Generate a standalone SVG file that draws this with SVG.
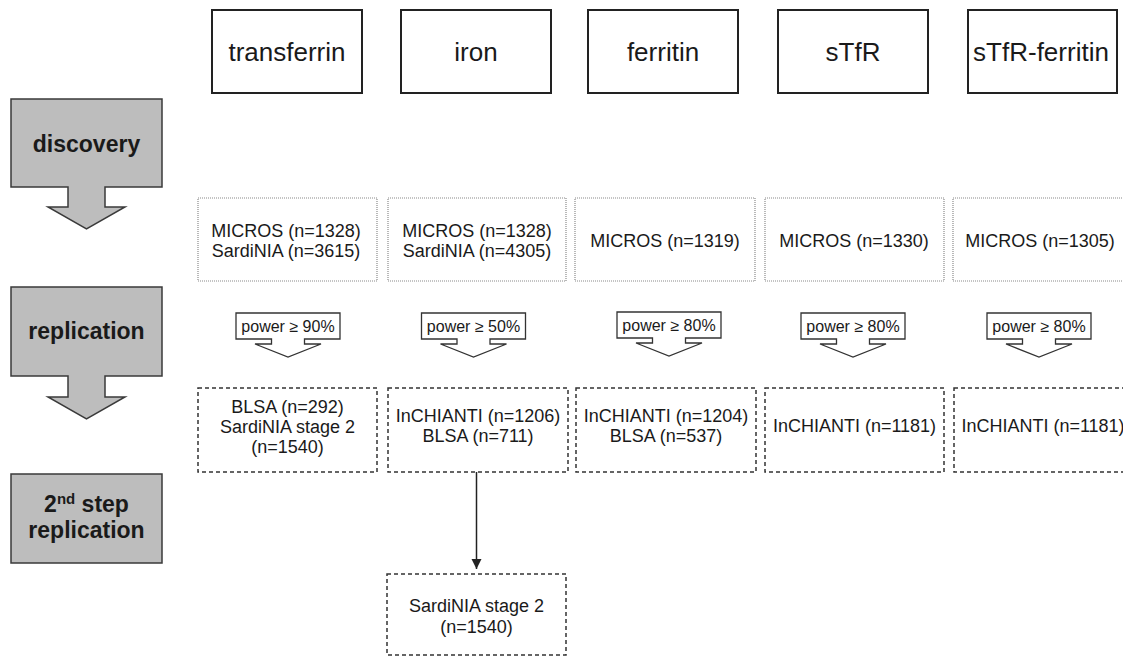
<svg xmlns="http://www.w3.org/2000/svg" width="1123" height="657" viewBox="0 0 1123 657">
<style>
.bg{fill:#ffffff}
.top{fill:#fff;stroke:#222;stroke-width:2}
.toptxt{font-family:"Liberation Sans",Arial,sans-serif;font-size:26px;fill:#1a1a1a;text-anchor:middle}
.stage{fill:#bdbdbd;stroke:#3a3a3a;stroke-width:1.5;stroke-linejoin:miter}
.stagetxt{font-family:"Liberation Sans",Arial,sans-serif;font-size:23px;font-weight:bold;fill:#1a1a1a;text-anchor:middle}
.disc{fill:#fff;stroke:#8a8a8a;stroke-width:1.2;stroke-dasharray:1 1}
.rep{fill:#fff;stroke:#333;stroke-width:1.5;stroke-dasharray:4 3}
.txt{font-family:"Liberation Sans",Arial,sans-serif;font-size:18px;fill:#1a1a1a;text-anchor:middle}
.pow{fill:#fff;stroke:#333;stroke-width:1.3;stroke-linejoin:miter}
.powtxt{font-family:"Liberation Sans",Arial,sans-serif;font-size:16px;fill:#1a1a1a;text-anchor:middle}
.conn{stroke:#222;stroke-width:1.5;fill:none}
</style>
<defs>
<marker id="ah" viewBox="0 0 10 10" refX="10" refY="5" markerWidth="10" markerHeight="11" markerUnits="userSpaceOnUse" orient="auto">
<path d="M0,0 L10,5 L0,10 z" fill="#222"/>
</marker>
</defs>
<rect class="bg" x="0" y="0" width="1123" height="657"/>

<g id="stage-discovery">
<path class="stage" d="M11,99 H162 V187 H105 V207 H125 L86.5,229 L48,207 H68 V187 H11 Z"/>
<text class="stagetxt" x="86.5" y="151.5">discovery</text>
</g>
<g id="stage-replication">
<path class="stage" d="M11,287 H162 V376 H105 V397 H125 L86.5,419 L48,397 H68 V376 H11 Z"/>
<text class="stagetxt" x="86.5" y="339">replication</text>
</g>
<g id="stage-2nd">
<rect class="stage" x="11" y="474" width="151" height="89"/>
<text class="stagetxt" x="86.5" y="512">2<tspan font-size="15px" dy="-8">nd</tspan><tspan dy="8"> step</tspan></text>
<text class="stagetxt" x="86.5" y="538">replication</text>
</g>

<g id="trait-transferrin">
<rect class="top" x="212" y="10" width="150" height="83"/>
<text class="toptxt" x="287" y="61">transferrin</text>
</g>
<g id="trait-iron">
<rect class="top" x="401" y="10" width="150" height="83"/>
<text class="toptxt" x="476" y="61">iron</text>
</g>
<g id="trait-ferritin">
<rect class="top" x="588" y="10" width="150" height="83"/>
<text class="toptxt" x="663" y="61">ferritin</text>
</g>
<g id="trait-stfr">
<rect class="top" x="778" y="10" width="150" height="83"/>
<text class="toptxt" x="853" y="61">sTfR</text>
</g>
<g id="trait-stfr-ferritin">
<rect class="top" x="968" y="10" width="149" height="83"/>
<text class="toptxt" x="1041" y="61">sTfR-ferritin</text>
</g>

<g id="disc-1">
<rect class="disc" x="198" y="198" width="179" height="83"/>
<text class="txt" x="286" y="236.5">MICROS (n=1328)</text>
<text class="txt" x="286" y="256.5">SardiNIA (n=3615)</text>
</g>
<g id="disc-2">
<rect class="disc" x="388" y="198" width="178" height="83"/>
<text class="txt" x="477" y="236.5">MICROS (n=1328)</text>
<text class="txt" x="477" y="256.5">SardiNIA (n=4305)</text>
</g>
<g id="disc-3">
<rect class="disc" x="575" y="198" width="180" height="83"/>
<text class="txt" x="665" y="247">MICROS (n=1319)</text>
</g>
<g id="disc-4">
<rect class="disc" x="765" y="198" width="179" height="83"/>
<text class="txt" x="854" y="247">MICROS (n=1330)</text>
</g>
<g id="disc-5">
<rect class="disc" x="953" y="198" width="180" height="83"/>
<text class="txt" x="1040" y="247">MICROS (n=1305)</text>
</g>

<g id="power-1">
<path class="pow" d="M236,313 H340 V339 H304.5 V344 H321 L288,357 L255,344 H271.5 V339 H236 Z"/>
<text class="powtxt" x="288" y="332">power ≥ 90%</text>
</g>
<g id="power-2">
<path class="pow" d="M421.5,313 H525.5 V339 H490 V344 H506.5 L473.5,357 L440.5,344 H457 V339 H421.5 Z"/>
<text class="powtxt" x="473.5" y="332">power ≥ 50%</text>
</g>
<g id="power-3">
<path class="pow" d="M617,312 H721 V338 H685.5 V343 H702 L669,356 L636,343 H652.5 V338 H617 Z"/>
<text class="powtxt" x="669" y="331">power ≥ 80%</text>
</g>
<g id="power-4">
<path class="pow" d="M801,313 H905 V339 H869.5 V344 H886 L853,357 L820,344 H836.5 V339 H801 Z"/>
<text class="powtxt" x="853" y="332">power ≥ 80%</text>
</g>
<g id="power-5">
<path class="pow" d="M987,313 H1091 V339 H1055.5 V344 H1072 L1039,357 L1006,344 H1022.5 V339 H987 Z"/>
<text class="powtxt" x="1039" y="332">power ≥ 80%</text>
</g>

<g id="rep-1">
<rect class="rep" x="198" y="388" width="179" height="84"/>
<text class="txt" x="287.5" y="413">BLSA (n=292)</text>
<text class="txt" x="287.5" y="433">SardiNIA stage 2</text>
<text class="txt" x="287.5" y="453">(n=1540)</text>
</g>
<g id="rep-2">
<rect class="rep" x="388" y="388" width="180" height="84"/>
<text class="txt" x="478" y="422">InCHIANTI (n=1206)</text>
<text class="txt" x="478" y="442">BLSA (n=711)</text>
</g>
<g id="rep-3">
<rect class="rep" x="576" y="388" width="180" height="84"/>
<text class="txt" x="666" y="422">InCHIANTI (n=1204)</text>
<text class="txt" x="666" y="442">BLSA (n=537)</text>
</g>
<g id="rep-4">
<rect class="rep" x="765" y="388" width="179" height="84"/>
<text class="txt" x="854.5" y="432">InCHIANTI (n=1181)</text>
</g>
<g id="rep-5">
<rect class="rep" x="954" y="388" width="180" height="84"/>
<text class="txt" x="1043" y="432">InCHIANTI (n=1181)</text>
</g>

<g id="rep2-1">
<rect class="rep" x="387" y="574" width="179" height="81"/>
<text class="txt" x="476.5" y="612">SardiNIA stage 2</text>
<text class="txt" x="476.5" y="633">(n=1540)</text>
</g>

<g id="connectors">
<line class="conn" x1="476.5" y1="472" x2="476.5" y2="569" marker-end="url(#ah)"/>
</g>
</svg>
